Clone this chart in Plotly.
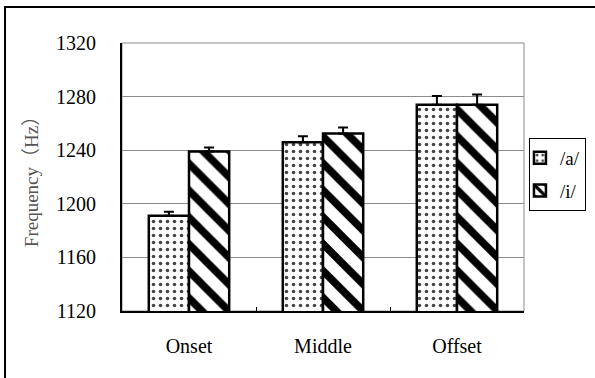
import plotly.graph_objects as go

# Formant frequency by vowel position
positions = ["Onset", "Middle", "Offset"]
vowel_a = [1191, 1246, 1274]
vowel_a_err = [3, 4.5, 6.5]
vowel_i = [1239, 1252.5, 1274]
vowel_i_err = [3, 4.5, 7.5]

y_ticks = [1120, 1160, 1200, 1240, 1280, 1320]

SERIF = "Times New Roman, Liberation Serif, serif"

fig = go.Figure()

fig.add_trace(go.Bar(
    name="/a/",
    legendgroup="a",
    x=positions,
    y=vowel_a,
    marker=dict(
        color="white",
        line=dict(color="black", width=2.5),
        pattern=dict(shape=".", size=7, solidity=0.2, fgcolor="#444444", fgopacity=1,
                     bgcolor="white"),
    ),
    error_y=dict(type="data", symmetric=False, array=vowel_a_err, arrayminus=[0, 0, 0],
                 color="black", thickness=2, width=5),
))

fig.add_trace(go.Bar(
    name="/i/",
    legendgroup="i",
    x=positions,
    y=vowel_i,
    marker=dict(
        color="white",
        line=dict(color="black", width=2.5),
        pattern=dict(shape="\\", size=19, solidity=0.4, fgcolor="black", fgopacity=1,
                     bgcolor="white"),
    ),
    error_y=dict(type="data", symmetric=False, array=vowel_i_err, arrayminus=[0, 0, 0],
                 color="black", thickness=2, width=5),
))

fig.update_layout(
    width=595,
    height=378,
    margin=dict(l=122, r=71, t=43, b=67, autoexpand=False),
    paper_bgcolor="white",
    plot_bgcolor="white",
    barmode="group",
    bargap=0.4,
    bargroupgap=0,
    font=dict(family=SERIF, size=20, color="black"),
    legend=dict(
        xref="container", yref="container",
        x=0.889, y=0.635, xanchor="left", yanchor="top",
        indentation=-10,
        tracegroupgap=5,
        bordercolor="black", borderwidth=1,
        font=dict(family=SERIF, size=19, color="black"),
        bgcolor="white",
    ),
    shapes=[
        # plot-area frame
        dict(type="rect", xref="paper", yref="paper", x0=0, x1=1, y0=0, y1=1,
             line=dict(color="#8c8c8c", width=1), layer="below"),
        # outer chart frame
        dict(type="rect", xref="paper", yref="paper", x0=-0.291, x1=1.2, y0=-0.3, y1=1.134,
             line=dict(color="black", width=2), layer="above"),
    ],
)

fig.update_yaxes(
    range=[1120, 1320],
    tickvals=y_ticks,
    ticktext=[str(v) for v in y_ticks],
    showgrid=True, gridcolor="#8c8c8c", gridwidth=1,
    showline=True, linecolor="black", linewidth=2,
    zeroline=False,
    ticks="",
    ticklabelstandoff=20,
    tickfont=dict(family=SERIF, size=20, color="black"),
    title=dict(text="Frequency（Hz）", standoff=12,
               font=dict(family="Liberation Serif, Noto Sans CJK JP", size=19, color="#555555")),
)

fig.update_xaxes(
    showline=True, linecolor="black", linewidth=2,
    ticks="inside", tickson="boundaries", ticklen=4, tickcolor="black",
    showgrid=False,
    tickfont=dict(family=SERIF, size=20, color="black"),
    ticklabelstandoff=16,
)

fig.write_html("out.html")
